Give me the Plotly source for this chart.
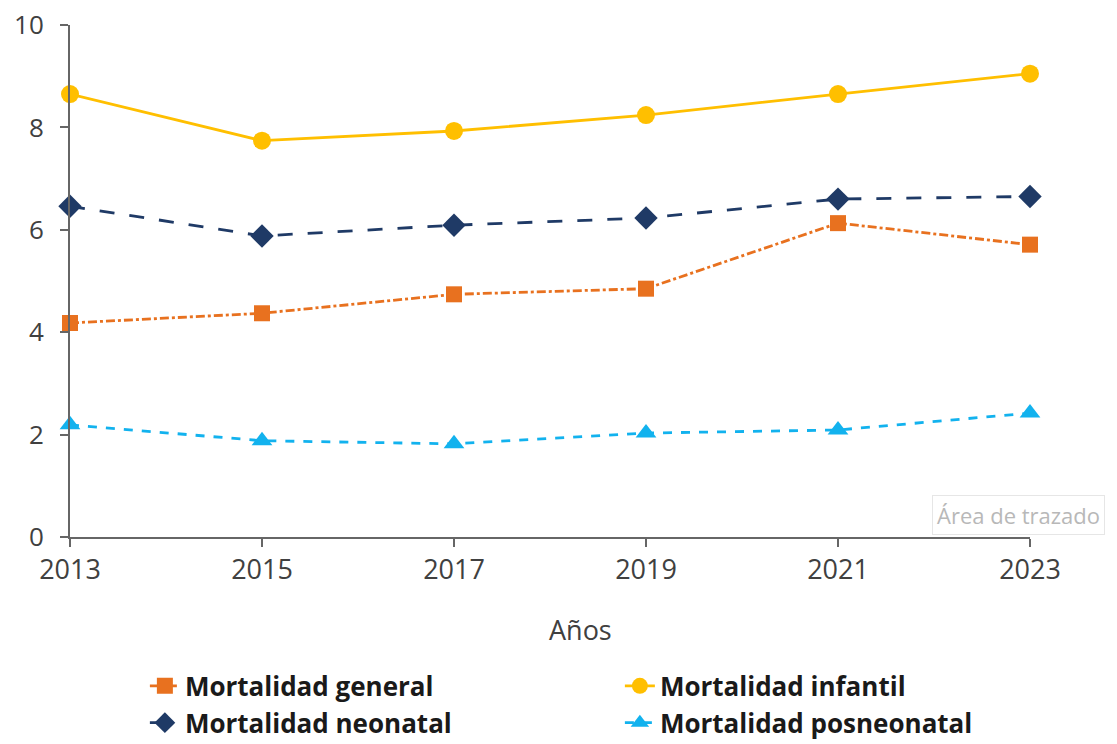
import plotly.graph_objects as go

years = [2013, 2015, 2017, 2019, 2021, 2023]
mort_general = [4.18, 4.37, 4.74, 4.85, 6.13, 5.71]
mort_infantil = [8.65, 7.74, 7.93, 8.24, 8.65, 9.05]
mort_neonatal = [6.46, 5.88, 6.09, 6.23, 6.60, 6.65]
mort_posneonatal = [2.19, 1.88, 1.82, 2.03, 2.09, 2.42]

series = [
    ("Mortalidad general", mort_general, "#E8711F", "dashdot", "square", 16),
    ("Mortalidad infantil", mort_infantil, "#FFBF00", "solid", "circle", 18),
    ("Mortalidad neonatal", mort_neonatal, "#1F3A66", "longdash", "diamond", 18),
    ("Mortalidad posneonatal", mort_posneonatal, "#12B2EE", "dash", "triangle-up", 18),
]

fig = go.Figure()
for name, vals, color, dash, sym, size in series:
    fig.add_trace(go.Scatter(
        x=years, y=vals, name=name, mode="lines+markers",
        line=dict(color=color, width=2.8, dash=dash),
        marker=dict(symbol=sym, size=size, color=color),
        cliponaxis=False,
    ))

axis_col = "#666666"
txt_col = "#404040"
fig.update_layout(
    width=1117, height=744,
    margin=dict(l=62, r=95, t=17, b=215, autoexpand=False),
    paper_bgcolor="white", plot_bgcolor="white",
    font=dict(family="Open Sans", size=26, color=txt_col),
    xaxis=dict(
        range=[2013, 2023], tickvals=years, showgrid=False, zeroline=False,
        showline=True, linecolor=axis_col, linewidth=2,
        ticks="outside", ticklen=8, tickwidth=2, tickcolor=axis_col,
        tickfont=dict(size=27, color=txt_col), ticklabeloverflow="allow",
    ),
    yaxis=dict(
        range=[0, 10], tickvals=[0, 2, 4, 6, 8, 10], showgrid=False, zeroline=False,
        showline=True, linecolor=axis_col, linewidth=2,
        ticks="outside", ticklen=8, tickwidth=2, tickcolor=axis_col,
        tickfont=dict(size=26, color=txt_col), ticklabeloverflow="allow",
        ticklabelstandoff=11,
    ),
    legend=dict(
        orientation="h", x=0.078, xanchor="left", y=-0.245, yanchor="top",
        entrywidth=430, entrywidthmode="pixels",
        font=dict(family="Open Sans", size=26, color="#1a1a1a", weight="bold"),
        bgcolor="rgba(0,0,0,0)", tracegroupgap=0,
    ),
    showlegend=True,
)

fig.add_annotation(
    xref="paper", yref="paper", x=0.532, y=-0.18, xanchor="center", yanchor="middle",
    text="Años", showarrow=False,
    font=dict(family="Open Sans", size=27, color=txt_col),
)

fig.add_annotation(
    xref="paper", yref="paper", x=0.9875, y=0.043, xanchor="center", yanchor="middle",
    text="Área de trazado", showarrow=False,
    font=dict(family="Open Sans", size=22, color="#B8B8B8"),
    bgcolor="white", bordercolor="#E6E6E6", borderwidth=1, borderpad=4,
)

fig.write_html("out.html")
